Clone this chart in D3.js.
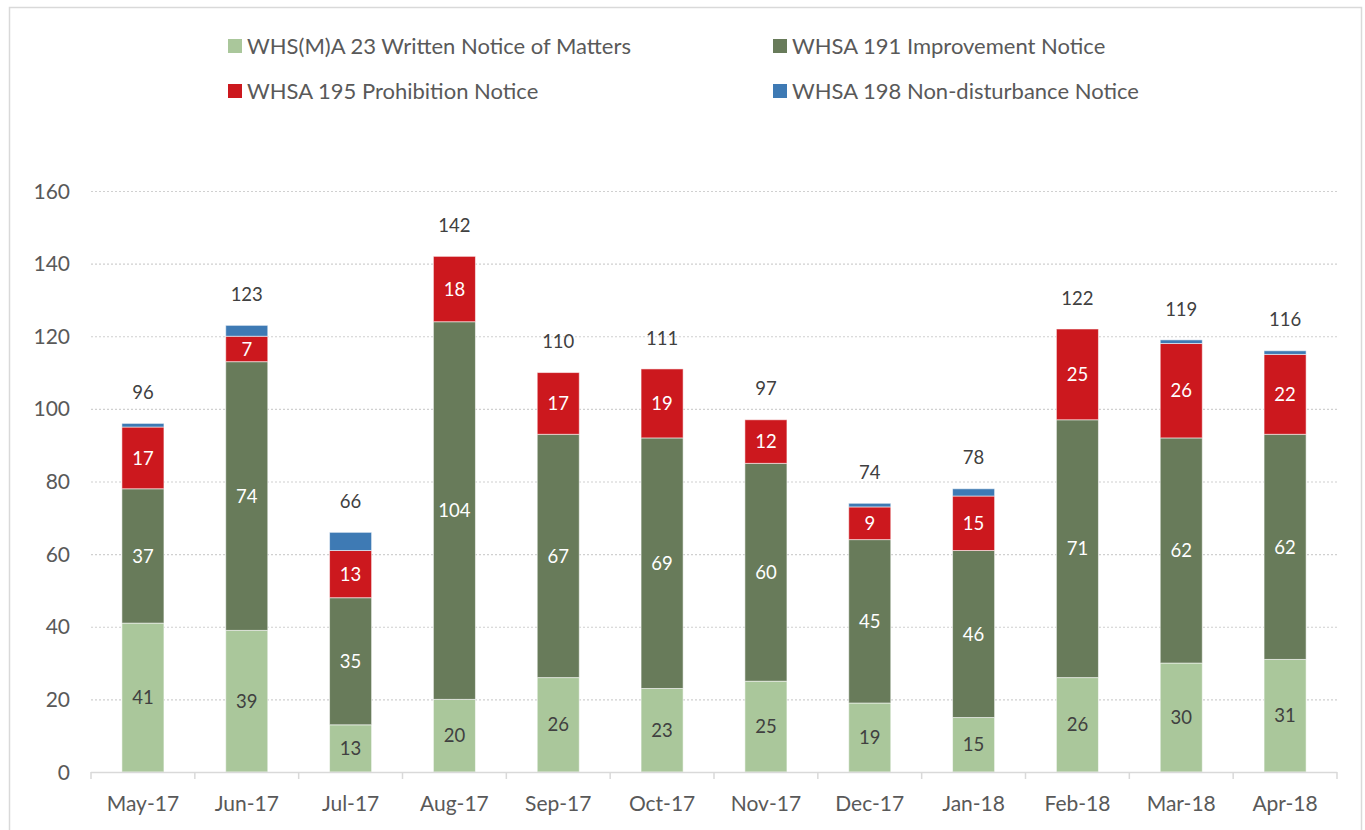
<!DOCTYPE html>
<html>
<head>
<meta charset="utf-8">
<script src="https://cdn.jsdelivr.net/npm/d3@7"></script>
<style>
  body { margin: 0; background: #fff; }
  text { font-family: Lato, "Open Sans", sans-serif; }
</style>
</head>
<body>
<svg id="chart" width="1365" height="830"></svg>
<script>
// Données
const months = ["May-17", "Jun-17", "Jul-17", "Aug-17", "Sep-17", "Oct-17",
  "Nov-17", "Dec-17", "Jan-18", "Feb-18", "Mar-18", "Apr-18"];
const writtenNotice = [41, 39, 13, 20, 26, 23, 25, 19, 15, 26, 30, 31];
const improvementNotice = [37, 74, 35, 104, 67, 69, 60, 45, 46, 71, 62, 62];
const prohibitionNotice = [17, 7, 13, 18, 17, 19, 12, 9, 15, 25, 26, 22];
const nonDisturbanceNotice = [1, 3, 5, 0, 0, 0, 0, 1, 2, 0, 1, 1];
const totals = [96, 123, 66, 142, 110, 111, 97, 74, 78, 122, 119, 116];
const yTicks = [0, 20, 40, 60, 80, 100, 120, 140, 160];

const series = [
  { name: "WHS(M)A 23 Written Notice of Matters", values: writtenNotice, color: "#aac79b", label: "#404040" },
  { name: "WHSA 191 Improvement Notice", values: improvementNotice, color: "#687b5a", label: "#ffffff" },
  { name: "WHSA 195 Prohibition Notice", values: prohibitionNotice, color: "#cc181e", label: "#ffffff" },
  { name: "WHSA 198 Non-disturbance Notice", values: nonDisturbanceNotice, color: "#3e7ab4", label: null }
];

const width = 1365, height = 830;
const margin = { top: 191, right: 28, bottom: 58, left: 91 };

const svg = d3.select("#chart");

// Cadre
svg.append("rect")
  .attr("x", 9.5).attr("y", 7.5)
  .attr("width", 1352).attr("height", 840)
  .attr("fill", "none").attr("stroke", "#d9d9d9").attr("stroke-width", 1.5);

const x = d3.scaleBand()
  .domain(months)
  .range([margin.left, width - margin.right])
  .paddingInner(0.595)
  .paddingOuter(0.2975);

const y = d3.scaleLinear()
  .domain([0, 160])
  .range([height - margin.bottom, margin.top]);

// Grille
svg.append("g")
  .selectAll("line")
  .data(yTicks.filter((d) => d > 0))
  .join("line")
  .attr("x1", margin.left)
  .attr("x2", width - margin.right)
  .attr("y1", (d) => y(d) + 0.5)
  .attr("y2", (d) => y(d) + 0.5)
  .attr("stroke", "#d0d0d0")
  .attr("stroke-width", 1.2)
  .attr("stroke-dasharray", "2,2");

// Axe Y
svg.append("g")
  .selectAll("text")
  .data(yTicks)
  .join("text")
  .attr("x", 70)
  .attr("y", (d) => y(d))
  .attr("dy", "0.36em")
  .attr("text-anchor", "end")
  .attr("fill", "#595959")
  .style("font-size", "21px")
  .text((d) => d);

// Empilement
const stackData = months.map((m, i) => {
  const o = { month: m };
  series.forEach((s) => (o[s.name] = s.values[i]));
  return o;
});
const stack = d3.stack().keys(series.map((s) => s.name))(stackData);

const layers = svg.append("g")
  .selectAll("g")
  .data(stack)
  .join("g")
  .attr("fill", (d, i) => series[i].color);

layers.selectAll("rect")
  .data((d) => d.filter((p) => p[1] > p[0]))
  .join("rect")
  .attr("x", (d) => x(d.data.month))
  .attr("width", x.bandwidth())
  .attr("y", (d) => y(d[1]))
  .attr("height", (d) => y(d[0]) - y(d[1]))
  .attr("stroke", "rgba(255,255,255,0.55)")
  .attr("stroke-width", 1);

// Étiquettes des segments
layers.each(function (layer, i) {
  if (!series[i].label) return;
  d3.select(this)
    .selectAll("text")
    .data(layer.filter((p) => p[1] > p[0]))
    .join("text")
    .attr("x", (d) => x(d.data.month) + x.bandwidth() / 2)
    .attr("y", (d) => y((d[0] + d[1]) / 2))
    .attr("dy", "0.36em")
    .attr("text-anchor", "middle")
    .attr("fill", series[i].label)
    .style("font-size", "18.5px")
    .text((d) => d[1] - d[0]);
});

// Totaux
svg.append("g")
  .selectAll("text")
  .data(months)
  .join("text")
  .attr("x", (d) => x(d) + x.bandwidth() / 2)
  .attr("y", (d, i) => y(totals[i]) - 31)
  .attr("dy", "0.36em")
  .attr("text-anchor", "middle")
  .attr("fill", "#404040")
  .style("font-size", "18.5px")
  .text((d, i) => totals[i]);

// Axe X
const xAxis = svg.append("g");
xAxis.append("line")
  .attr("x1", margin.left).attr("x2", width - margin.right)
  .attr("y1", y(0) + 0.5).attr("y2", y(0) + 0.5)
  .attr("stroke", "#d9d9d9").attr("stroke-width", 1.5);

const step = x.step();
xAxis.selectAll(".tick")
  .data(d3.range(months.length + 1))
  .join("line")
  .attr("class", "tick")
  .attr("x1", (i) => margin.left + i * step)
  .attr("x2", (i) => margin.left + i * step)
  .attr("y1", y(0))
  .attr("y2", y(0) + 7)
  .attr("stroke", "#d9d9d9").attr("stroke-width", 1.5);

xAxis.selectAll("text")
  .data(months)
  .join("text")
  .attr("x", (d) => x(d) + x.bandwidth() / 2)
  .attr("y", 803)
  .attr("dy", "0.36em")
  .attr("text-anchor", "middle")
  .attr("fill", "#595959")
  .style("font-size", "21px")
  .text((d) => d);

// Légende
const legendPos = [[228, 46], [773, 46], [228, 91], [773, 91]];
const legend = svg.append("g")
  .selectAll("g")
  .data(series)
  .join("g")
  .attr("transform", (d, i) => `translate(${legendPos[i][0]},${legendPos[i][1]})`);

legend.append("rect")
  .attr("x", 0).attr("y", -7)
  .attr("width", 14).attr("height", 14)
  .attr("fill", (d) => d.color);

legend.append("text")
  .attr("x", 19)
  .attr("dy", "0.36em")
  .attr("fill", "#595959")
  .style("font-size", "22px")
  .text((d) => d.name);
</script>
</body>
</html>
